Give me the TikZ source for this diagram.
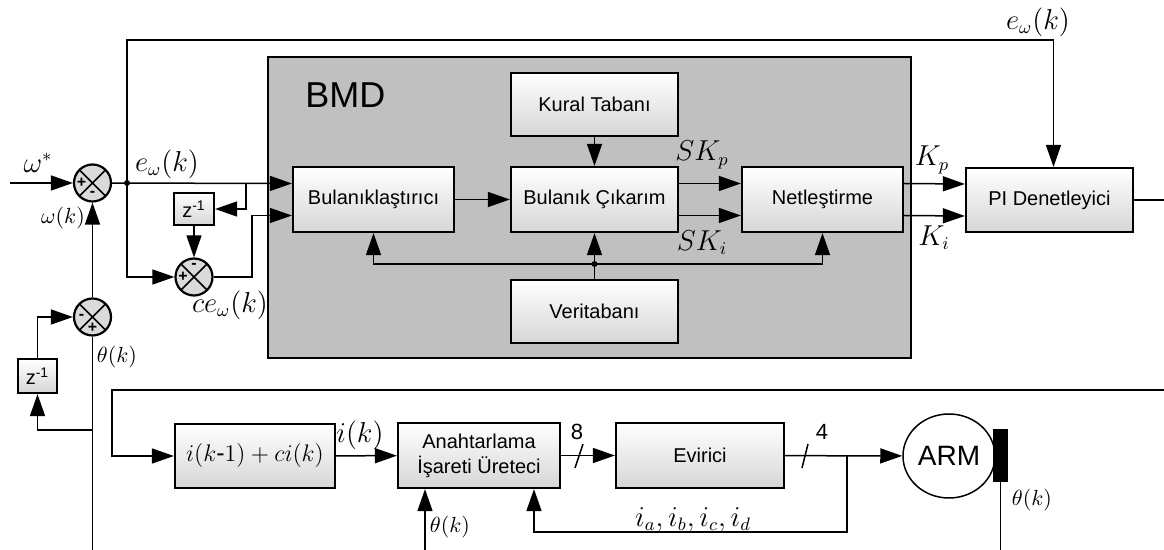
\documentclass[tikz,border=0pt]{standalone}
\usepackage{fontspec}
\setmainfont{Liberation Sans}
\usetikzlibrary{arrows.meta,shapes.geometric}

\definecolor{bmdGri}{HTML}{C0C0C0}
\definecolor{blokAlt}{HTML}{D6D6D6}
\definecolor{toplaDolgu}{HTML}{DADADA}

\begin{document}
\begin{tikzpicture}[x=0.5pt, y=-0.5pt, font=\fontsize{10}{12.5}\selectfont,
  blok/.style={draw, line width=1.1pt, top color=white, bottom color=blokAlt, inner sep=0pt, align=center},
  topla/.style={circle, draw, line width=1.1pt, fill=toplaDolgu, minimum size=18.5pt, inner sep=0pt,
    path picture={\draw[line width=0.8pt] (path picture bounding box.north west) -- (path picture bounding box.south east)
      (path picture bounding box.north east) -- (path picture bounding box.south west);}},
  isaret/.style={inner sep=0pt, font=\fontsize{8}{8}\selectfont\bfseries},
  hat/.style={line width=0.75pt},
  ok/.style={hat, -{Triangle[length=11pt,width=7.5pt]}},
  etiket/.style={inner sep=0pt, font=\fontsize{13.5}{16}\selectfont},
  kucuk/.style={inner sep=0pt, font=\fontsize{11}{13}\selectfont},
  nokta/.style={circle, fill, inner sep=0pt, minimum size=3pt}]
\useasboundingbox (0,0) rectangle (1164,550);
% BMD block
\node[draw, line width=0.7pt, fill=bmdGri, minimum width=321.5pt, minimum height=150.5pt, inner sep=0pt] (bmd) at (589.5,207.5) {};
\node[anchor=west, inner sep=0pt, font=\fontsize{18}{18}\selectfont] (bmdyazi) at (305,95) {BMD};
% boxes
\node[blok, minimum width=80.5pt, minimum height=32.5pt] (bul) at (373.5,199.5) {Bulanıklaştırıcı};
\node[blok, minimum width=83.5pt, minimum height=32.5pt] (cik) at (594.5,199.5) {Bulanık Çıkarım};
\node[blok, minimum width=80.5pt, minimum height=32.5pt] (net) at (822.5,199.5) {Netleştirme};
\node[blok, minimum width=83.5pt, minimum height=31.5pt] (kural) at (594.5,104.5) {Kural Tabanı};
\node[blok, minimum width=83.5pt, minimum height=31.5pt] (veri) at (594.5,311.5) {Veritabanı};
\node[blok, minimum width=83.5pt, minimum height=32pt] (pi) at (1049.5,200) {PI Denetleyici};
\node[blok, minimum width=20pt, minimum height=16pt] (gec1) at (194,209) {z\textsuperscript{-1}};
\node[blok, minimum width=19.5pt, minimum height=17pt] (gec2) at (37.5,376) {z\textsuperscript{-1}};
\node[blok, minimum width=80pt, minimum height=32pt, font=\fontsize{12.5}{14}\selectfont] (akim) at (255,456) {$i(k\mbox{-}1)+ci(k)$};
\node[blok, minimum width=81pt, minimum height=32.5pt] (anaht) at (479,455.5) {Anahtarlama\\İşareti Üreteci};
\node[blok, minimum width=84pt, minimum height=32.5pt] (evir) at (700,455.5) {Evirici};
\node[ellipse, draw, line width=0.75pt, minimum width=46pt, minimum height=42pt, inner sep=0pt, font=\fontsize{14}{14}\selectfont] (arm) at (949,456) {ARM};
\node[fill=black, minimum width=7.5pt, minimum height=26.5pt, inner sep=0pt] (mil) at (1000.5,455.5) {};
% summing junctions
\node[topla] (s1) at (92.5,183) {};
\node[topla] (s2) at (194,277) {};
\node[topla] (s3) at (92.5,317) {};
\node[isaret] (s1a) at ([xshift=-5.5pt]s1.center) {+};
\node[isaret] (s1b) at ([yshift=-5.5pt]s1.center) {-};
\node[isaret] (s2a) at ([xshift=-5.5pt]s2.center) {+};
\node[isaret] (s2b) at ([yshift=5.5pt]s2.center) {-};
\node[isaret] (s3a) at ([xshift=-5.5pt]s3.center) {-};
\node[isaret] (s3b) at ([yshift=-5.5pt]s3.center) {+};
% free ends and branch points
\coordinate (giris) at (10,183);
\coordinate (d1) at (127,183);
\coordinate (b1) at (246,183);
\coordinate (v1) at (594.5,264);
\coordinate (cikis) at (1164,200);
\coordinate (geri) at (1164,390);
\coordinate (b2) at (92.5,430);
\coordinate (th1) at (92.5,550);
\coordinate (th2) at (425,550);
\coordinate (d3) at (847,456);
\coordinate (th3) at (1000.5,550);
% connectors
\draw[ok] (giris) -- (s1);
\draw[ok] (s1) -- ([yshift=8pt]bul.west);
\node[nokta] (d1n) at (d1) {};
\draw[ok] (b1) |- (gec1);
\draw[ok] (gec1) -- (s2);
\draw[ok] (d1) |- (s2);
\draw[ok] (s2) -- ++(58,0) |- ([yshift=-8pt]bul.west);
\draw[ok] (d1) -- (127,40) -| ([xshift=2pt]pi.north);
\draw[ok] (bul) -- (cik);
\draw[ok] (kural) -- (cik);
\draw[ok] (veri) -- (cik);
\draw[ok] (v1) -| (bul);
\draw[ok] (v1) -| (net);
\node[nokta] (v1n) at (v1) {};
\draw[ok] ([yshift=8pt]cik.east) -- ([yshift=8pt]net.west);
\draw[ok] ([yshift=-8pt]cik.east) -- ([yshift=-8pt]net.west);
\draw[ok] ([yshift=8pt]net.east) -- ([yshift=8pt]pi.west);
\draw[ok] ([yshift=-8pt]net.east) -- ([yshift=-8pt]pi.west);
\draw[hat] (pi) -- (cikis);
\draw[ok] (s3) -- (s1);
\draw[hat] (th1) -- (s3);
\draw[ok] (b2) -| (gec2);
\draw[ok] (gec2) |- (s3);
\draw[ok] (geri) -- (112,390) |- (akim);
\draw[ok] (akim) -- (anaht);
\draw[ok] (anaht) -- (evir);
\draw[ok] (evir) -- (arm);
\draw[ok] (d3) -- ++(0,76) -| ([xshift=27.5pt]anaht.south);
\draw[ok] (th2) -- (th2 |- anaht.south);
\draw[hat] (mil) -- (th3);
% bus slashes
\draw[hat] (575,468) -- (583,444);
\draw[hat] (802,468) -- (808,444);
% labels
\node[etiket] (lw) at (38,163) {$\omega^*$};
\node[etiket] (le1) at (167,164) {$e_\omega(k)$};
\node[kucuk] (lwk) at (63,218) {$\omega(k)$};
\node[etiket] (lce) at (230,305) {$ce_\omega(k)$};
\node[kucuk] (lt1) at (117,357) {$\theta(k)$};
\node[etiket] (le2) at (1038,22) {$e_\omega(k)$};
\node[etiket] (lskp) at (702,155) {$SK_p$};
\node[etiket] (lski) at (702,243) {$SK_i$};
\node[etiket] (lkp) at (932,160) {$K_p$};
\node[etiket] (lki) at (934,238) {$K_i$};
\node[etiket] (lik) at (360,435) {$i(k)$};
\node[inner sep=0pt, font=\fontsize{11}{12}\selectfont] (l8) at (577,432) {8};
\node[inner sep=0pt, font=\fontsize{11}{12}\selectfont] (l4) at (822,432) {4};
\node[etiket] (lia) at (693,520) {$i_a,i_b,i_c,i_d$};
\node[kucuk] (lt2) at (450,527) {$\theta(k)$};
\node[kucuk] (lt3) at (1032,500) {$\theta(k)$};
\end{tikzpicture}
\end{document}
